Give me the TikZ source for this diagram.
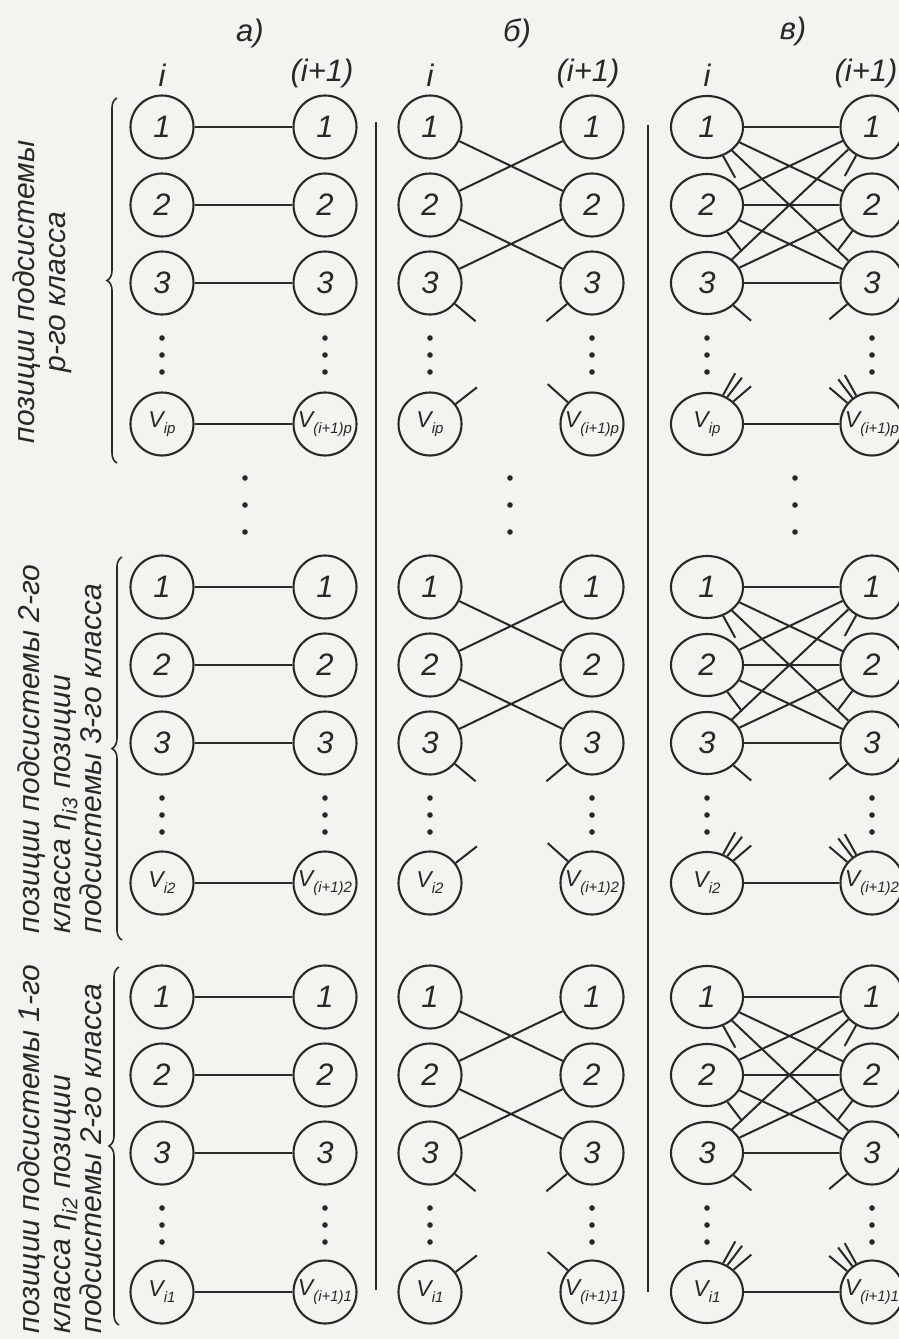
\documentclass[tikz,border=0pt]{standalone}
\usepackage{fontspec}
\setmainfont{Liberation Sans}
\usetikzlibrary{calc,decorations.pathreplacing,shapes.geometric}
\definecolor{ink}{RGB}{40,40,40}
\definecolor{paper}{RGB}{243,243,239}
\tikzset{
  posC/.style={circle, draw=ink, line width=2.1pt, minimum size=63pt, inner sep=0pt,
    font=\itshape\fontsize{31}{31}\selectfont, text=ink},
  posE/.style={posC, ellipse, minimum width=72pt, minimum height=62pt},
  vfont/.style={font=\itshape\fontsize{23}{23}\selectfont},
  link/.style={draw=ink, line width=2pt},
  hdr/.style={font=\itshape\fontsize{31}{31}\selectfont, text=ink},
  lbl/.style={rotate=90, align=left, font=\itshape\fontsize{30}{31}\selectfont, text=ink},
  brc/.style={decorate, decoration={brace, amplitude=10pt}, draw=ink, line width=1.6pt},
  divider/.style={draw=ink, line width=1.4pt}
}
\newcommand\sub[1]{\raisebox{-6pt}{\fontsize{15}{15}\selectfont #1}}
% #1 prefix, #2 xL, #3 xR, #4 left style, #5 y1, #6 yv, #7 subscript
\newcommand\mkcol[7]{%
  \node[#4] (#1L1) at (#2,#5) {1};
  \node[#4] (#1L2) at (#2,{#5+78}) {2};
  \node[#4] (#1L3) at (#2,{#5+156}) {3};
  \node[#4,vfont] (#1Lv) at (#2,#6) {V\sub{i#7}};
  \node[posC] (#1R1) at (#3,#5) {1};
  \node[posC] (#1R2) at (#3,{#5+78}) {2};
  \node[posC] (#1R3) at (#3,{#5+156}) {3};
  \node[posC,vfont] (#1Rv) at (#3,#6) {V\sub{(i+1)#7}};
  \foreach \xx in {#2,#3}{\foreach \dd in {55,72,89}{\fill[ink] (\xx,{#5+156+\dd}) circle (2.8pt);}}
}
\newcommand\mkgroup[4]{% #1 group, #2 y1, #3 yv, #4 subscript
  \mkcol{#1a}{162}{325}{posC}{#2}{#3}{#4}
  \mkcol{#1b}{430}{592}{posC}{#2}{#3}{#4}
  \mkcol{#1c}{707}{872}{posE}{#2}{#3}{#4}
  % a) straight
  \foreach \k in {1,2,3,v}{\draw[link] (#1aL\k) -- (#1aR\k);}
  % b) crossing
  \draw[link] (#1bL1) -- (#1bR2);
  \draw[link] (#1bL2) -- (#1bR1);
  \draw[link] (#1bL2) -- (#1bR3);
  \draw[link] (#1bL3) -- (#1bR2);
  \draw[link] (#1bL3.-40) -- ++(-40:27pt);
  \draw[link] (#1bR3.220) -- ++(220:27pt);
  \draw[link] (#1bLv.38) -- ++(38:27pt);
  \draw[link] (#1bRv.138) -- ++(138:27pt);
  % c) full
  \foreach \i in {1,2,3}{\foreach \j in {1,2,3}{\draw[link] (#1cL\i) -- (#1cR\j);}}
  \draw[link] (#1cLv) -- (#1cRv);
  \foreach \i in {1,2,3}{
    \draw[link] (#1cL\i) -- ($(#1cL\i)!58pt!(#1cRv)$);
    \draw[link] (#1cR\i) -- ($(#1cR\i)!56pt!(#1cLv)$);
    \draw[link] (#1cLv) -- ($(#1cLv)!58pt!(#1cR\i)$);
    \draw[link] (#1cRv) -- ($(#1cRv)!56pt!(#1cL\i)$);
  }
}
\begin{document}
\begin{tikzpicture}[x=1pt,y=-1pt]
\useasboundingbox (0,0) rectangle (899,1339);
\fill[paper] (0,0) rectangle (899,1339);
% headers
\node[hdr] (ha) at (250,33) {а)};
\node[hdr] (hb) at (517,33) {б)};
\node[hdr] (hc) at (793,31) {в)};
\node[hdr] (haL) at (162,75) {i};
\node[hdr] (haR) at (322,73) {(i+1)};
\node[hdr] (hbL) at (430,75) {i};
\node[hdr] (hbR) at (588,73) {(i+1)};
\node[hdr] (hcL) at (707,75) {i};
\node[hdr] (hcR) at (866,73) {(i+1)};
% dividers
\draw[divider] (376,122) -- (376,1290);
\draw[divider] (648,125) -- (648,1292);
% groups
\mkgroup{P}{127}{424}{p}
\mkgroup{S}{587}{883}{2}
\mkgroup{T}{997}{1292}{1}
% dots between groups
\foreach \xx in {245,510,795}{\foreach \yy in {478,505,532}{\fill[ink] (\xx,\yy) circle (2.8pt);}}
% braces
\draw[brc] (117,463) -- (117,98);
\draw[brc] (122,940) -- (122,557);
\draw[brc] (119,1325) -- (119,967);
% labels
\node[lbl, align=center] (labP) at (42,292) {позиции подсистемы\\р-го класса};
\node[lbl, anchor=west] (lab2) at (60,937) {позиции подсистемы 2-го\\класса η\textsubscript{i3} позиции\\подсистемы 3-го класса};
\node[lbl, anchor=west] (lab1) at (60,1337) {позиции подсистемы 1-го\\класса η\textsubscript{i2} позиции\\подсистемы 2-го класса};
\end{tikzpicture}
\end{document}
